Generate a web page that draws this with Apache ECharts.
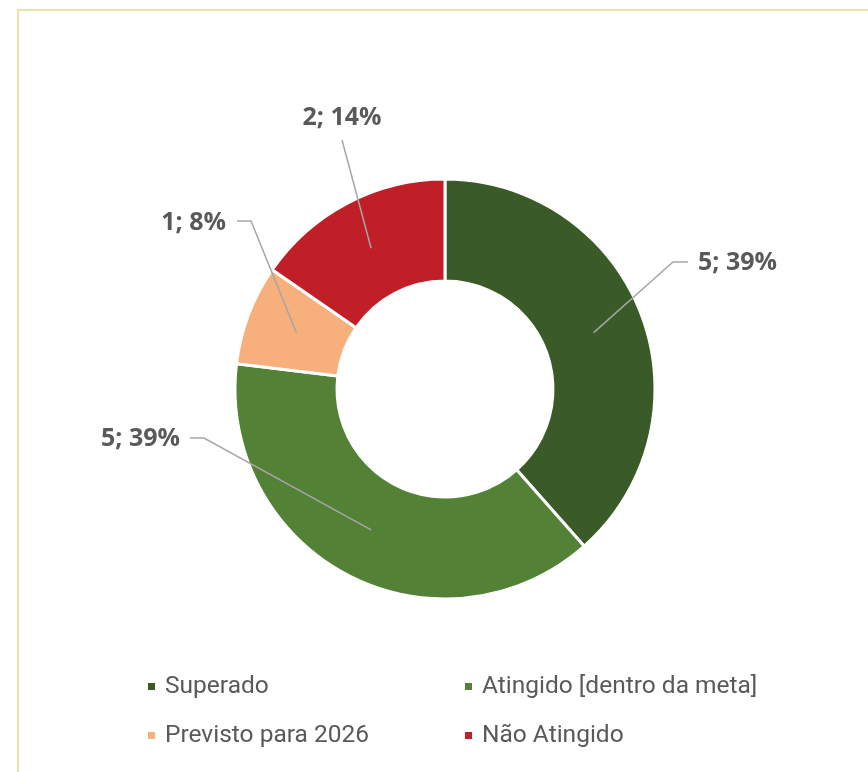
<!DOCTYPE html>
<html>
<head>
<meta charset="utf-8">
<script src="https://cdn.jsdelivr.net/npm/echarts@6/dist/echarts.min.js"></script>
<style>
html, body { margin: 0; padding: 0; background: #fff; }
#main { width: 868px; height: 772px; }
</style>
</head>
<body>
<div id="main"></div>
<script>
var categories = ['Superado', 'Atingido [dentro da meta]', 'Previsto para 2026', 'Não Atingido'];
var values = [5, 5, 1, 2];
var percentLabels = ['39%', '39%', '8%', '14%'];
var colors = ['#3A5A27', '#538135', '#F7AF7C', '#C01F27'];

// donut geometry (px)
var cx = 445, cy = 389, rIn = 108, rOut = 210;

// where each data label sits and how its leader line bends
var labelSpots = [
    {x: 698, y: 263, align: 'left', bend: [[673, 262], [688, 262]]},
    {x: 180, y: 439, align: 'right', bend: [[204, 438], [190, 438]]},
    {x: 226, y: 223, align: 'right', bend: [[251, 221], [237, 221]]},
    {x: 342, y: 118, align: 'center', bend: [[342, 140], [342, 140]]}
];

var total = values.reduce(function (a, b) { return a + b; }, 0);

// point in the middle of the ring, at the middle angle of slice i
function ringMid(i) {
    var before = 0;
    for (var k = 0; k < i; k++) before += values[k];
    var a = (before + values[i] / 2) / total * Math.PI * 2;
    var rm = (rIn + rOut) / 2;
    return [cx + rm * Math.sin(a), cy - rm * Math.cos(a)];
}

var pieData = categories.map(function (c, i) {
    return {name: c, value: values[i]};
});

var chart = echarts.init(document.getElementById('main'));
var option = {
    animation: false,
    color: colors,
    graphic: [{
        type: 'rect',
        shape: {x: 18, y: 10, width: 900, height: 820},
        style: {fill: 'none', stroke: '#EFE3A1', lineWidth: 2}
    }],
    legend: {
        data: categories,
        left: 146,
        top: 671,
        width: 640,
        padding: 0,
        itemWidth: 9,
        itemHeight: 9,
        itemGap: 18,
        icon: 'rect',
        textStyle: {
            color: '#595959',
            fontFamily: 'Roboto',
            fontSize: 24.5,
            width: 280,
            height: 31,
            lineHeight: 31,
            padding: [0, 0, 0, 4]
        }
    },
    series: [{
        // the slices
        type: 'pie',
        center: [cx, cy],
        radius: [rIn, rOut],
        startAngle: 90,
        clockwise: true,
        z: 2,
        itemStyle: {borderColor: '#fff', borderWidth: 3},
        emphasis: {disabled: true},
        label: {show: false},
        labelLine: {show: false},
        data: pieData
    }, {
        // same slices, transparent, only to carry labels and leader lines above the ring
        type: 'pie',
        center: [cx, cy],
        radius: [rIn, rOut],
        startAngle: 90,
        clockwise: true,
        z: 4,
        silent: true,
        legendHoverLink: false,
        itemStyle: {color: 'rgba(0,0,0,0)', borderWidth: 0},
        emphasis: {disabled: true},
        label: {
            show: true,
            position: 'outside',
            color: '#595959',
            fontFamily: 'Open Sans',
            fontWeight: 'bold',
            fontSize: 25,
            formatter: function (p) {
                return values[p.dataIndex] + '; ' + percentLabels[p.dataIndex];
            }
        },
        labelLine: {
            show: true,
            lineStyle: {color: '#A6A6A6', width: 1.5}
        },
        labelLayout: function (p) {
            var s = labelSpots[p.dataIndex];
            return {
                x: s.x,
                y: s.y,
                align: s.align,
                verticalAlign: 'middle',
                labelLinePoints: [ringMid(p.dataIndex), s.bend[0], s.bend[1]]
            };
        },
        data: pieData
    }]
};
chart.setOption(option);
</script>
</body>
</html>
